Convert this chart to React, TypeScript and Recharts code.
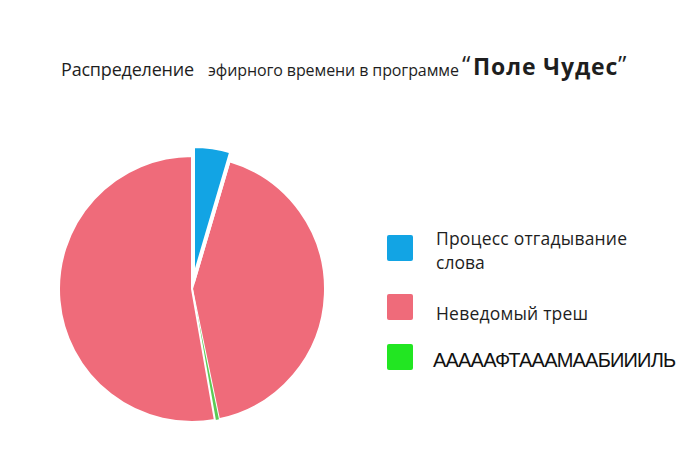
import React from 'react';
import { PieChart, Pie, Cell } from 'recharts';

// ---- data ----
const sliceNames = ['Процесс отгадывание слова', 'Неведомый треш', 'АААААФТАААМААБИИИЛЬ', 'Неведомый треш (2)'];
const sliceValues = [4.55, 42.2, 0.5, 52.75];
const legendLabels = [['Процесс отгадывание', 'слова'], ['Неведомый треш'], ['АААААФТАААМААБИИИЛЬ']];
const titleParts = ['Распределение', 'эфирного времени в программе', 'Поле Чудес'];

// ---- styles ----
const BLUE = '#12a4e4';
const PINK = '#ef6b7a';
const GREEN_LINE = '#5ccb55';
const GREEN_LEGEND = '#22e622';
const TEXT = '#1e1e1e';

const pieData = sliceNames.map((name, i) => ({ name, value: sliceValues[i] }));
const blueIndex = 0;
const explodedData = [
  { name: sliceNames[blueIndex], value: sliceValues[blueIndex] },
  { name: 'rest', value: sliceValues.slice(1).reduce((a, b) => a + b, 0) },
];

const mainFills = ['#ffffff', PINK, GREEN_LINE, PINK];
const mainStrokes = ['#ffffff', '#ffffff', 'none', '#ffffff'];
const legendColors = [BLUE, PINK, GREEN_LEGEND];

export default function App() {
  return (
    <div style={{ position: 'absolute', left: 0, top: 0, width: 700, height: 460, background: '#fff', overflow: 'hidden' }}>
      <PieChart width={700} height={460} margin={{ top: 0, right: 0, bottom: 0, left: 0 }} style={{ position: 'absolute', left: 0, top: 0 }}>
        <Pie
          data={pieData}
          dataKey="value"
          nameKey="name"
          cx={192}
          cy={289}
          outerRadius={133}
          innerRadius={0}
          startAngle={90}
          endAngle={-270}
          isAnimationActive={false}
          label={false}
          labelLine={false}
        >
          {pieData.map((d, i) => (
            <Cell key={i} fill={mainFills[i]} stroke={mainStrokes[i]} strokeWidth={2} />
          ))}
        </Pie>
        <Pie
          data={explodedData}
          dataKey="value"
          nameKey="name"
          cx={193}
          cy={282}
          outerRadius={136}
          innerRadius={0}
          startAngle={90}
          endAngle={-270}
          isAnimationActive={false}
          label={false}
          labelLine={false}
        >
          <Cell key="b" fill={BLUE} stroke="#ffffff" strokeWidth={4} strokeLinejoin="round" />
          <Cell key="r" fill="none" stroke="none" />
        </Pie>
      </PieChart>
      <svg width={700} height={460} style={{ position: 'absolute', left: 0, top: 0, pointerEvents: 'none' }}>
        <text y={75.5} fill={TEXT} fontFamily="'Open Sans', sans-serif">
          <tspan x={61} fontSize={18} letterSpacing={-0.2}>{titleParts[0]}</tspan>
          <tspan x={208} fontSize={16} letterSpacing={-0.1}>{titleParts[1]}</tspan>
          <tspan x={462} y={73} fontSize={24}>{'“'}</tspan>
          <tspan x={473} y={75} fontSize={23} fontWeight={700} letterSpacing={0.9}>{titleParts[2]}</tspan>
          <tspan x={618} y={73} fontSize={24}>{'”'}</tspan>
        </text>
        <g>
          {legendColors.map((c, i) => (
            <rect key={i} x={387} y={[235, 294, 344][i]} width={26} height={26} rx={2} fill={c} />
          ))}
          <g fill={TEXT} fontFamily="'Open Sans', sans-serif" fontSize={17.5}>
            <text x={436} y={245}>
              <tspan x={436} letterSpacing={0.2}>{legendLabels[0][0]}</tspan>
              <tspan x={436} dy={24}>{legendLabels[0][1]}</tspan>
            </text>
            <text x={436} y={320} letterSpacing={0.2}>{legendLabels[1][0]}</text>
          </g>
          <text x={433} y={367} fill="#111" fontFamily="'Liberation Sans', Arial, sans-serif" fontSize={20} letterSpacing={-0.8}>
            {legendLabels[2][0]}
          </text>
        </g>
      </svg>
    </div>
  );
}
